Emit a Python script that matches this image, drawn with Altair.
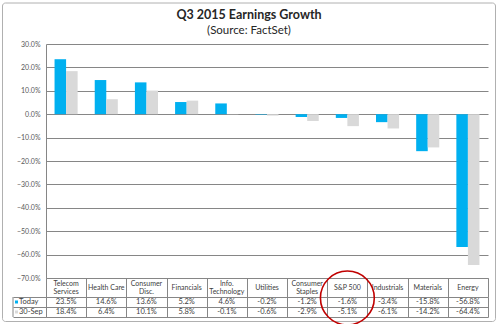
import altair as alt
import pandas as pd

# ---- data ----
categories = ["Telecom\nServices", "Health Care", "Consumer\nDisc.", "Financials",
              "Info.\nTechnology", "Utilities", "Consumer\nStaples", "S&P 500",
              "Industrials", "Materials", "Energy"]
series = ["Today", "30-Sep"]
today = [23.5, 14.6, 13.6, 5.2, 4.6, -0.2, -1.2, -1.6, -3.4, -15.8, -56.8]
sep30 = [18.4, 6.4, 10.1, 5.8, -0.1, -0.6, -2.9, -5.1, -6.1, -14.2, -64.4]
y_ticks = [30, 20, 10, 0, -10, -20, -30, -40, -50, -60, -70]
title_text = "Q3 2015 Earnings Growth"
subtitle_text = "(Source: FactSet)"
highlight = "S&P 500"

rows = []
for c, a, b in zip(categories, today, sep30):
    rows.append({"category": c, "series": series[0], "value": a, "label": f"{a:.1f}%"})
    rows.append({"category": c, "series": series[1], "value": b, "label": f"{b:.1f}%"})
df = pd.DataFrame(rows)

single = pd.DataFrame({"category": [c for c in categories if "\n" not in c]})
single["text"] = single["category"]
double = pd.DataFrame({"category": [c for c in categories if "\n" in c]})
double["l1"] = [c.split("\n")[0] for c in double["category"]]
double["l2"] = [c.split("\n")[1] for c in double["category"]]
series_df = pd.DataFrame({"series": series})

GRID = "#868686"
TXT = "#404040"
FONT = "Lato"
W, H = 442, 234
color_scale = alt.Scale(domain=series, range=["#00B0F0", "#D9D9D9"])
x_scale = alt.Scale(domain=categories, paddingInner=0, paddingOuter=0)

# ---- top: bar chart ----
x_top = alt.X("category:N", sort=categories, title=None, scale=x_scale,
              axis=alt.Axis(orient="bottom", domain=True, domainColor=GRID,
                            ticks=True, tickBand="extent", tickSize=19, tickColor=GRID,
                            labels=False, grid=False))

bars = alt.Chart(df).mark_bar().encode(
    x=x_top,
    xOffset=alt.XOffset("series:N", sort=series,
                        scale=alt.Scale(domain=series, paddingInner=0, paddingOuter=0.74)),
    y=alt.Y("value:Q", title=None,
            scale=alt.Scale(domain=[-70, 30], nice=False, zero=False),
            axis=alt.Axis(values=y_ticks, labelExpr="format(datum.value, '.1f') + '%'",
                          grid=True, gridColor=GRID, ticks=False, domain=True,
                          domainColor=GRID, labelPadding=6, labelFontSize=7,
                          labelColor="#595959", labelFont=FONT)),
    color=alt.Color("series:N", scale=color_scale, legend=None),
)

hdr_style = dict(font=FONT, fontSize=7, color=TXT, baseline="middle")
hdr_single = alt.Chart(single).mark_text(**hdr_style).encode(
    x=alt.X("category:N", sort=categories), y=alt.value(H + 9.5), text="text:N")
hdr_l1 = alt.Chart(double).mark_text(**hdr_style).encode(
    x=alt.X("category:N", sort=categories), y=alt.value(H + 5.5), text="l1:N")
hdr_l2 = alt.Chart(double).mark_text(**hdr_style).encode(
    x=alt.X("category:N", sort=categories), y=alt.value(H + 14), text="l2:N")

one = pd.DataFrame({"k": [0]})
frame = alt.Chart(one).mark_rect(fillOpacity=0, stroke="#b0b0b0", strokeWidth=1,
                                 cornerRadius=3).encode(
    x=alt.value(-43.5), x2=alt.value(449.5), y=alt.value(-41), y2=alt.value(277.5))

title_mark = alt.Chart(pd.DataFrame({"t": [title_text]})).mark_text(
    font=FONT, fontSize=12.5, fontWeight="bold", color="#262626", baseline="alphabetic"
).encode(x=alt.value(203), y=alt.value(-25), text="t:N")
subtitle_mark = alt.Chart(pd.DataFrame({"t": [subtitle_text]})).mark_text(
    font=FONT, fontSize=11.5, color="#262626", baseline="alphabetic"
).encode(x=alt.value(203), y=alt.value(-10), text="t:N")

top = alt.layer(frame, bars, hdr_single, hdr_l1, hdr_l2, title_mark,
                subtitle_mark).properties(width=W, height=H)

# ---- bottom: data table ----
x_tbl = alt.X("category:N", sort=categories, title=None, scale=x_scale,
              axis=alt.Axis(orient="top", labels=False, ticks=False, domain=False,
                            grid=True, gridColor=GRID, tickBand="extent"))
y_tbl = alt.Y("series:N", sort=series, title=None,
              scale=alt.Scale(domain=series, paddingInner=0, paddingOuter=0),
              axis=alt.Axis(grid=True, gridColor=GRID, tickBand="extent", ticks=True,
                            tickSize=33, tickColor=GRID, domain=True, domainColor=GRID,
                            labels=False))

cells = alt.Chart(df).mark_text(fontSize=7.5, font=FONT, color=TXT).encode(
    x=x_tbl, y=y_tbl, text="label:N")

row_labels = alt.Chart(series_df).mark_text(
    fontSize=7.5, font=FONT, color=TXT, align="left").encode(
    x=alt.value(-27), y=alt.Y("series:N", sort=series), text="series:N")

squares = alt.Chart(series_df).mark_point(
    shape="square", filled=True, size=9, opacity=1).encode(
    x=alt.value(-29.5), y=alt.Y("series:N", sort=series),
    color=alt.Color("series:N", scale=color_scale, legend=None))

left_edge = alt.Chart(one).mark_rule(color=GRID, strokeWidth=1).encode(
    x=alt.value(-33), y=alt.value(0), y2=alt.value(20))

ring = alt.Chart(pd.DataFrame({"category": [highlight]})).mark_point(
    shape="circle", filled=False, size=2900, stroke="#C00000", strokeWidth=1.6,
    opacity=1).encode(x=alt.X("category:N", sort=categories), y=alt.value(1))

bottom = alt.layer(cells, row_labels, squares, left_edge, ring).properties(
    width=W, height=20)

chart = alt.vconcat(top, bottom, spacing=19, bounds="flush").properties(
    padding={"left": 2, "top": 2, "right": 3, "bottom": 0},
    background="white",
).configure_view(stroke=None)

chart.save("out.html", embed_options={"renderer": "svg", "actions": False})
